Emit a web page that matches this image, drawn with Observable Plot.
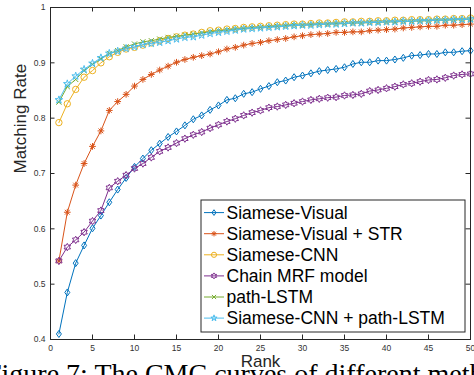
<!DOCTYPE html>
<html><head><meta charset="utf-8">
<script src="https://cdn.jsdelivr.net/npm/d3@7"></script>
<script src="https://cdn.jsdelivr.net/npm/@observablehq/plot@0.6"></script>
<style>html,body{margin:0;padding:0;background:#fff;overflow:hidden}svg{display:block}</style>
</head><body><div id="chart"></div>
<script>
const ranks = d3.range(1, 51);
const xTicks = [0, 5, 10, 15, 20, 25, 30, 35, 40, 45, 50];
const yTicks = [0.4, 0.5, 0.6, 0.7, 0.8, 0.9, 1.0];
const seriesNames = ["Siamese-Visual", "Siamese-Visual + STR", "Siamese-CNN", "Chain MRF model", "path-LSTM", "Siamese-CNN + path-LSTM"];
const seriesColors = ["#0072BD", "#D95319", "#EDB120", "#7E2F8E", "#77AC30", "#4DBEEE"];
const caption = "Figure 7: The CMC curves of different methods";

const siameseVisual = [0.410,0.485,0.538,0.570,0.601,0.624,0.648,0.671,0.692,0.712,0.727,0.742,0.754,0.766,0.776,0.787,0.798,0.805,0.815,0.823,0.833,0.836,0.844,0.847,0.853,0.858,0.865,0.868,0.874,0.877,0.881,0.885,0.887,0.889,0.892,0.898,0.901,0.901,0.904,0.904,0.906,0.909,0.913,0.914,0.916,0.916,0.919,0.919,0.921,0.922];
const siameseVisualSTR = [0.542,0.630,0.679,0.718,0.749,0.777,0.814,0.830,0.843,0.858,0.870,0.879,0.887,0.894,0.901,0.906,0.910,0.913,0.916,0.920,0.925,0.928,0.932,0.935,0.937,0.940,0.942,0.944,0.947,0.949,0.951,0.952,0.953,0.955,0.955,0.956,0.956,0.958,0.959,0.960,0.961,0.963,0.964,0.965,0.966,0.966,0.968,0.968,0.969,0.970];
const siameseCNN = [0.792,0.826,0.852,0.874,0.886,0.900,0.911,0.919,0.925,0.928,0.932,0.936,0.940,0.944,0.947,0.950,0.952,0.955,0.958,0.959,0.961,0.962,0.964,0.965,0.966,0.967,0.968,0.969,0.970,0.970,0.971,0.972,0.972,0.973,0.974,0.974,0.975,0.975,0.976,0.976,0.977,0.977,0.978,0.978,0.978,0.979,0.979,0.980,0.980,0.981];
const chainMRF = [0.542,0.567,0.580,0.594,0.614,0.633,0.674,0.686,0.697,0.709,0.718,0.729,0.740,0.747,0.755,0.763,0.770,0.775,0.782,0.788,0.794,0.799,0.805,0.810,0.814,0.819,0.821,0.824,0.827,0.830,0.833,0.835,0.837,0.838,0.841,0.842,0.844,0.849,0.851,0.854,0.857,0.861,0.863,0.866,0.869,0.870,0.873,0.877,0.879,0.880];
const pathLSTM = [0.829,0.857,0.870,0.886,0.897,0.907,0.917,0.922,0.929,0.934,0.938,0.940,0.943,0.946,0.948,0.950,0.952,0.954,0.956,0.958,0.959,0.961,0.962,0.963,0.964,0.965,0.966,0.967,0.968,0.968,0.969,0.970,0.970,0.971,0.971,0.972,0.972,0.973,0.973,0.974,0.974,0.975,0.975,0.976,0.976,0.977,0.977,0.978,0.978,0.979];
const cnnPathLSTM = [0.833,0.862,0.876,0.888,0.899,0.909,0.917,0.921,0.926,0.929,0.933,0.935,0.937,0.940,0.943,0.946,0.947,0.950,0.953,0.955,0.957,0.959,0.961,0.962,0.963,0.964,0.965,0.966,0.967,0.968,0.968,0.969,0.970,0.970,0.971,0.972,0.972,0.973,0.973,0.974,0.974,0.975,0.975,0.976,0.976,0.977,0.977,0.978,0.978,0.979];

const seriesValues = [siameseVisual, siameseVisualSTR, siameseCNN, chainMRF, pathLSTM, cnnPathLSTM];

function sym(fn) { return { draw(ctx, size) { fn(ctx, Math.sqrt(size / Math.PI)); } }; }
function polyStar(ctx, n, R, ri) {
  for (let i = 0; i < 2 * n; i++) {
    const a = -Math.PI / 2 + i * Math.PI / n, rr = i % 2 ? ri : R;
    const px = rr * Math.cos(a), py = rr * Math.sin(a);
    i ? ctx.lineTo(px, py) : ctx.moveTo(px, py);
  }
  ctx.closePath();
}
const symbols = [
  sym((c, r) => { c.moveTo(0, -1.1 * r); c.lineTo(0.78 * r, 0); c.lineTo(0, 1.1 * r); c.lineTo(-0.78 * r, 0); c.closePath(); }),
  sym((c, r) => { const a = 1.05 * r; for (let k = 0; k < 4; k++) { const t = k * Math.PI / 4; c.moveTo(a * Math.cos(t), a * Math.sin(t)); c.lineTo(-a * Math.cos(t), -a * Math.sin(t)); } }),
  sym((c, r) => { c.moveTo(r, 0); c.arc(0, 0, r, 0, 2 * Math.PI); }),
  sym((c, r) => polyStar(c, 6, 1.15 * r, 1.15 * r / Math.sqrt(3))),
  sym((c, r) => { const a = 0.8 * r; c.moveTo(-a, -a); c.lineTo(a, a); c.moveTo(a, -a); c.lineTo(-a, a); }),
  sym((c, r) => polyStar(c, 5, 1.25 * r, 1.25 * r * 0.382))
];

const table = ranks.map((rk, i) => {
  const row = { rank: rk };
  seriesValues.forEach((vals, j) => row["s" + j] = vals[i]);
  return row;
});

const W = 474, H = 375, ml = 50, mr = 4, mt = 7, mb = 36;
const fw = W - ml - mr, fh = H - mt - mb, tl = 4.5;
const ink = "#262626";

const seriesMarks = seriesNames.flatMap((name, j) => [
  Plot.line(table, { x: "rank", y: "s" + j, stroke: seriesColors[j], strokeWidth: 1 }),
  Plot.dot(table, { x: "rank", y: "s" + j, symbol: symbols[j], r: 3.2, stroke: seriesColors[j], fill: "none", strokeWidth: 1 })
]);

const svgEl = Plot.plot({
  width: W, height: H, marginLeft: ml, marginRight: mr, marginTop: mt, marginBottom: mb,
  style: { fontFamily: "'Liberation Sans', Arial, sans-serif", background: "#fff", overflow: "hidden" },
  x: { domain: [0, 50] },
  y: { domain: [0.4, 1] },
  marks: [
    Plot.tickX(xTicks, { x: d => d, insetTop: fh - tl, stroke: ink }),
    Plot.tickX(xTicks, { x: d => d, insetBottom: fh - tl, stroke: ink }),
    Plot.tickY(yTicks, { y: d => d, insetRight: fw - tl, stroke: ink }),
    Plot.tickY(yTicks, { y: d => d, insetLeft: fw - tl, stroke: ink }),
    Plot.axisX({ ticks: xTicks, tickSize: 0, tickPadding: 5, label: null, fontSize: 8.5, color: "#333" }),
    Plot.axisY({ ticks: yTicks, tickSize: 0, tickPadding: 5, label: null, fontSize: 8.5, color: "#333", tickFormat: d => String(+d.toFixed(1)) }),
    ...seriesMarks,
    Plot.frame({ stroke: ink, strokeWidth: 1 }),
    Plot.text(["Rank"], { text: d => d, frameAnchor: "bottom", dy: 27, fontSize: 17, fill: ink }),
    Plot.text(["Matching Rate"], { text: d => d, frameAnchor: "left", dx: -30, rotate: -90, fontSize: 17, fill: ink })
  ]
});
document.getElementById("chart").appendChild(svgEl);

const svg = d3.select(svgEl);
// caption (partially cut off, as in the source figure)
svg.insert("text", ":first-child")
  .attr("x", -14).attr("y", 383)
  .attr("text-anchor", "start")
  .attr("font-family", "'Liberation Serif', 'Times New Roman', serif")
  .attr("font-size", 28).attr("fill", "#000")
  .text(caption);

// legend
const lg = svg.append("g");
const lx = 201, ly = 200, lw = 264, lh = 132, row0 = 212.6, step = 21.1;
lg.append("rect").attr("x", lx).attr("y", ly).attr("width", lw).attr("height", lh)
  .attr("fill", "#fff").attr("stroke", ink).attr("stroke-width", 1);
seriesNames.forEach((name, j) => {
  const yy = row0 + j * step;
  lg.append("line").attr("x1", lx + 3).attr("x2", lx + 23).attr("y1", yy).attr("y2", yy)
    .attr("stroke", seriesColors[j]).attr("stroke-width", 1);
  lg.append("path").attr("transform", `translate(${lx + 13},${yy})`)
    .attr("d", d3.symbol(symbols[j], Math.PI * 2.6 * 2.6)())
    .attr("fill", "none").attr("stroke", seriesColors[j]).attr("stroke-width", 1);
  lg.append("text").attr("x", lx + 25.5).attr("y", yy).attr("dy", "0.35em")
    .attr("text-anchor", "start")
    .attr("font-family", "'Liberation Sans', Arial, sans-serif").attr("font-size", 17.5)
    .attr("fill", "#000").text(name);
});
</script>
</body></html>
